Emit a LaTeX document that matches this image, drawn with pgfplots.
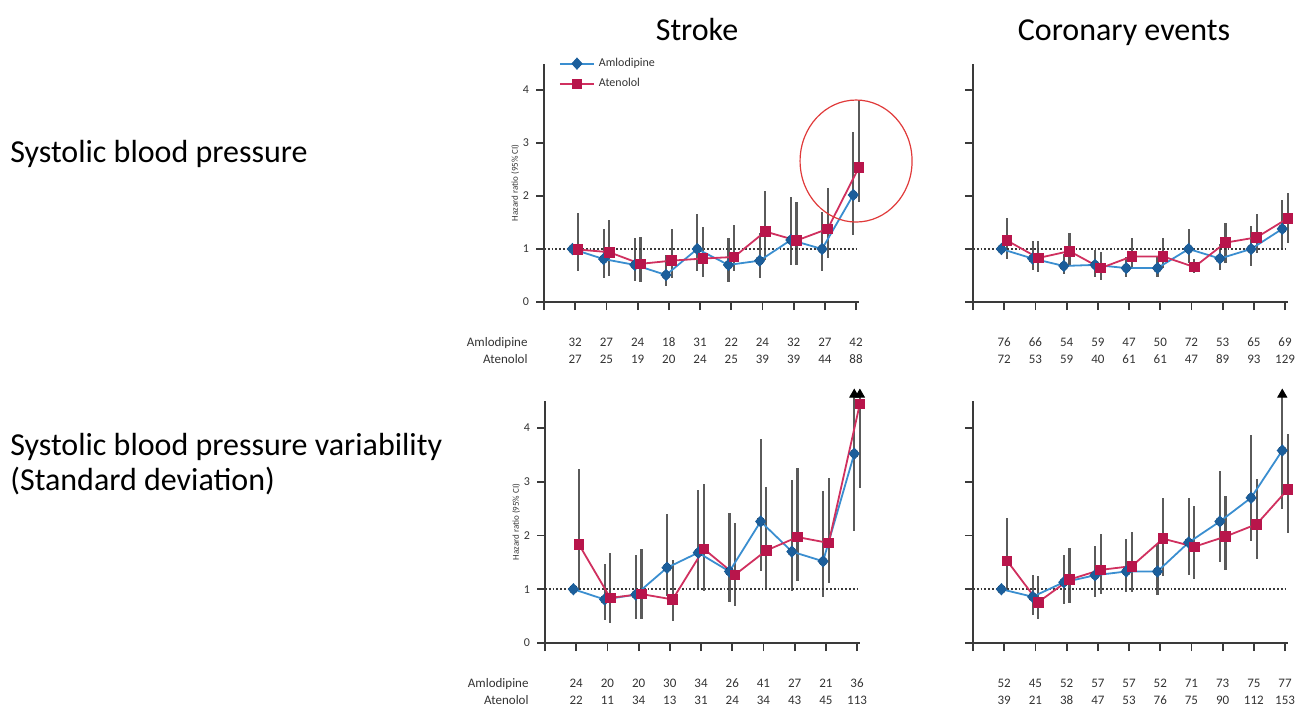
\documentclass[border=0pt]{standalone}
\usepackage{fontspec}
\setmainfont{Carlito}
\usepackage{pgfplots}
\usepackage{pgfplotstable}
\pgfplotsset{compat=1.18}

\definecolor{amlo}{HTML}{3A8ED0}
\definecolor{amlomk}{HTML}{1B5E9B}
\definecolor{aten}{HTML}{D0305F}
\definecolor{atenmk}{HTML}{B8154B}
\definecolor{axgray}{HTML}{3A3A3A}
\definecolor{cigray}{HTML}{5A5A5A}
\definecolor{txt}{HTML}{333333}
\definecolor{ring}{HTML}{E03A3A}

% columns: group, hazard ratio, lower CI, upper CI
\pgfplotstableread{
g hr lo hi
1 1.00 1.00 1.00
2 0.81 0.45 1.37
3 0.70 0.40 1.21
4 0.51 0.30 0.88
5 1.00 0.58 1.66
6 0.70 0.38 1.20
7 0.78 0.45 1.30
8 1.17 0.70 1.99
9 1.00 0.58 1.70
10 2.02 1.27 3.20
}\strAmlo
\pgfplotstableread{
g hr lo hi
1 0.99 0.58 1.68
2 0.94 0.50 1.55
3 0.72 0.38 1.22
4 0.78 0.45 1.37
5 0.82 0.48 1.41
6 0.85 0.58 1.45
7 1.33 0.80 2.10
8 1.16 0.70 1.88
9 1.38 0.83 2.15
10 2.54 1.88 3.82
}\strAten
\pgfplotstableread{
g hr lo hi
1 1.00 1.00 1.00
2 0.82 0.60 1.16
3 0.68 0.52 0.90
4 0.70 0.47 0.99
5 0.64 0.48 0.85
6 0.64 0.48 0.85
7 1.00 0.73 1.37
8 0.82 0.60 1.10
9 1.00 0.68 1.44
10 1.38 0.99 1.93
}\corAmlo
\pgfplotstableread{
g hr lo hi
1 1.16 0.81 1.59
2 0.83 0.56 1.16
3 0.96 0.68 1.31
4 0.64 0.42 0.95
5 0.86 0.64 1.20
6 0.86 0.64 1.20
7 0.66 0.55 0.82
8 1.12 0.73 1.49
9 1.22 0.92 1.66
10 1.58 1.11 2.05
}\corAten
\pgfplotstableread{
g hr lo hi
1 1.00 1.00 1.00
2 0.81 0.42 1.46
3 0.90 0.45 1.63
4 1.40 0.88 2.40
5 1.68 0.99 2.84
6 1.33 0.77 2.42
7 2.26 1.33 3.80
8 1.70 0.96 3.04
9 1.52 0.86 2.82
10 3.52 2.08 4.60
}\sdStrAmlo
\pgfplotstableread{
g hr lo hi
1 1.83 0.99 3.23
2 0.84 0.38 1.68
3 0.91 0.45 1.75
4 0.81 0.40 1.55
5 1.75 0.96 2.96
6 1.27 0.68 2.23
7 1.72 0.99 2.91
8 1.97 1.15 3.26
9 1.86 1.12 3.07
10 4.45 2.88 4.60
}\sdStrAten
\pgfplotstableread{
g hr lo hi
1 1.00 1.00 1.00
2 0.86 0.53 1.27
3 1.13 0.73 1.63
4 1.26 0.86 1.81
5 1.33 0.95 1.93
6 1.33 0.90 1.85
7 1.87 1.27 2.69
8 2.26 1.51 3.20
9 2.70 1.89 3.86
10 3.58 2.50 4.60
}\sdCorAmlo
\pgfplotstableread{
g hr lo hi
1 1.53 1.00 2.33
2 0.76 0.44 1.25
3 1.18 0.75 1.77
4 1.36 0.92 2.02
5 1.43 0.95 2.07
6 1.94 1.25 2.69
7 1.79 1.19 2.55
8 1.98 1.35 2.73
9 2.21 1.56 3.05
10 2.86 2.05 3.89
}\sdCorAten

\pgfplotsset{
  panel/.style={
    scale only axis, width=157.6pt,
    xmin=0, xmax=10.1, ymin=0, ymax=4.5,
    axis x line*=bottom, axis y line*=left,
    axis line style={line width=0.9pt, color=axgray, -},
    tick style={line width=0.9pt, color=axgray},
    tick align=outside, major tick length=4pt,
    xtick={0,...,10}, ytick={0,...,4},
    xticklabel style={align=center, text=txt,
      font=\fontsize{6.5}{8.5}\selectfont, yshift=-10.5pt},
    yticklabel style={text=txt, font=\fontsize{6}{7}\selectfont},
    /pgf/number format/assume math mode=true,
    clip=false,
  },
  ci/.style={only marks, mark=none, forget plot,
    error bars/.cd, y dir=both, y explicit,
    error bar style={line width=1.1pt, color=cigray}, error mark=none},
  amloline/.style={amlo, line width=0.9pt, mark=diamond*,
    mark size=2.8pt, mark options={fill=amlomk, draw=amlomk,
      line width=0.4pt, xscale=1.2}},
  atenline/.style={aten, line width=0.9pt, mark=square*,
    mark size=2.4pt, mark options={fill=atenmk, draw=atenmk, line width=0.4pt}},
}
\tikzset{
  rowlab/.style={anchor=east, align=right, text=txt,
    font=\fontsize{6.5}{8.5}\selectfont},
  big/.style={font=\fontsize{16}{19}\selectfont, text=black, inner sep=0pt},
}

\newcommand{\series}[2]{%
  \addplot[ci] table[x expr=\thisrow{g}-0.09, y=hr,
    y error plus expr=\thisrow{hi}-\thisrow{hr},
    y error minus expr=\thisrow{hr}-\thisrow{lo}] {#1};
  \addplot[ci] table[x expr=\thisrow{g}+0.09, y=hr,
    y error plus expr=\thisrow{hi}-\thisrow{hr},
    y error minus expr=\thisrow{hr}-\thisrow{lo}] {#2};
  \addplot[densely dotted, axgray, line width=0.9pt, forget plot]
    coordinates {(0,1) (10.1,1)};
  \addplot[amloline] table[x expr=\thisrow{g}-0.09, y=hr] {#1};
  \addplot[atenline] table[x expr=\thisrow{g}+0.09, y=hr] {#2};
}

\begin{document}
\begin{tikzpicture}[x=0.5pt, y=-0.5pt]
\useasboundingbox (0,0) rectangle (1308,713);

\node[big, anchor=base west] at (10,162) {Systolic blood pressure};
\node[big, anchor=base west] at (10,455) {Systolic blood pressure variability};
\node[big, anchor=base west] at (10,490) {(Standard deviation)};
\node[big, anchor=base] at (697,40) {Stroke};
\node[big, anchor=base] at (1124,40) {Coronary events};

% Stroke, systolic blood pressure
\begin{axis}[panel, height=119.25pt, at={(272pt,-151pt)}, anchor=south west,
  ylabel={Hazard ratio (95\% CI)},
  ylabel style={font=\fontsize{4.5}{5}\selectfont, text=txt, yshift=-5pt},
  xticklabels={{},{32\\27},{27\\25},{24\\19},{18\\20},{31\\24},{22\\25},{24\\39},{32\\39},{27\\44},{42\\88}},
  legend style={at={(0.04,1.05)}, anchor=north west, draw=none, fill=none,
    font=\fontsize{6}{7}\selectfont, text=txt, row sep=0.5pt,
    inner sep=1pt},
  legend cell align=left]
\series{\strAmlo}{\strAten}
\legend{Amlodipine, Atenolol}
\draw[color=ring, line width=0.6pt]
  (axis cs:10.0,2.66) ellipse [x radius=28pt, y radius=30.5pt];
\node[rowlab] at (axis cs:-0.3,-0.92) {Amlodipine\\Atenolol};
\end{axis}

% Coronary events, systolic blood pressure
\begin{axis}[panel, height=119.25pt, at={(486.5pt,-151pt)}, anchor=south west,
  yticklabels={},
  xticklabels={{},{76\\72},{66\\53},{54\\59},{59\\40},{47\\61},{50\\61},{72\\47},{53\\89},{65\\93},{69\\129}}]
\series{\corAmlo}{\corAten}
\end{axis}

% Stroke, variability
\begin{axis}[panel, height=121pt, at={(272.5pt,-321.5pt)}, anchor=south west,
  ylabel={Hazard ratio (95\% CI)},
  ylabel style={font=\fontsize{4.5}{5}\selectfont, text=txt, yshift=-5pt},
  xticklabels={{},{24\\22},{20\\11},{20\\34},{30\\13},{34\\31},{26\\24},{41\\34},{27\\43},{21\\45},{36\\113}}]
\series{\sdStrAmlo}{\sdStrAten}
\addplot[only marks, mark=triangle*, mark size=2.6pt, black, forget plot]
  coordinates {(9.91,4.62) (10.09,4.62)};
\node[rowlab] at (axis cs:-0.3,-0.90) {Amlodipine\\Atenolol};
\end{axis}

% Coronary events, variability
\begin{axis}[panel, height=121pt, at={(486.5pt,-321.5pt)}, anchor=south west,
  yticklabels={},
  xticklabels={{},{52\\39},{45\\21},{52\\38},{57\\47},{57\\53},{52\\76},{71\\75},{73\\90},{75\\112},{77\\153}}]
\series{\sdCorAmlo}{\sdCorAten}
\addplot[only marks, mark=triangle*, mark size=2.6pt, black, forget plot]
  coordinates {(9.91,4.62)};
\end{axis}
\end{tikzpicture}
\end{document}
